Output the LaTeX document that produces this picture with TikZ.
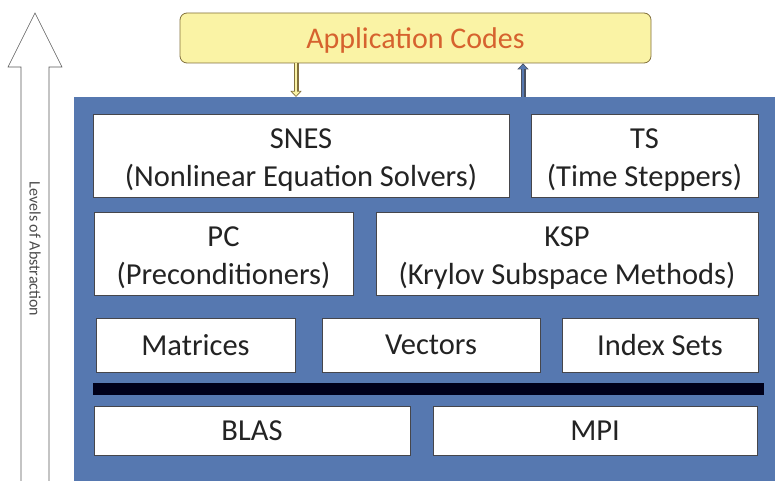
\documentclass[tikz,border=0pt]{standalone}
\usepackage{fontspec}
\setmainfont{Carlito}
\usetikzlibrary{arrows.meta}

\definecolor{panelblue}{RGB}{86,120,176}
\definecolor{appfill}{RGB}{250,243,165}
\definecolor{appedge}{RGB}{130,112,60}
\definecolor{apptext}{RGB}{214,98,46}
\definecolor{boxedge}{RGB}{70,70,75}
\definecolor{boxtext}{RGB}{35,35,35}

\tikzset{
  modbox/.style={draw=boxedge, line width=0.8pt, fill=white, text=boxtext, align=center,
    inner sep=0pt, font=\fontsize{30.5}{38}\selectfont},
  twoline/.style={modbox, text height=67pt},
  appbox/.style={draw=appedge, line width=0.8pt, fill=appfill, rounded corners=7pt,
    text=apptext, inner sep=0pt, text depth=0pt, font=\fontsize{30}{36}\selectfont},
  arrowout/.style={line width=5pt, -{Triangle[length=6pt,width=11pt]}},
  arrowin/.style={line width=2.8pt, shorten >=1.2pt, -{Triangle[length=4.2pt,width=7.6pt]}}
}

\begin{document}
\begin{tikzpicture}[x=1pt, y=-1pt]
  \useasboundingbox (0,0) rectangle (775,481);

  % levels of abstraction
  \draw[gray!70!black, line width=0.6pt, fill=white]
    (21,481) -- (21,67) -- (8,67) -- (35,13) -- (62,67) -- (49,67) -- (49,481);
  \node[rotate=-90, text=gray!60!black, font=\fontsize{16}{18}\selectfont] (levels) at (35,249) {Levels of Abstraction};

  % library panel
  \node[fill=panelblue, inner sep=0pt, minimum width=701pt, minimum height=384pt, anchor=north west] (panel) at (74,97) {};

  \node[appbox, minimum width=471pt, minimum height=50pt] (app) at (415.5,38) {Application Codes};

  \coordinate (dnx) at (296,0);
  \coordinate (upx) at (523,0);
  \draw[arrowout, draw=appedge] (app.south -| dnx) -- (panel.north -| dnx);
  \draw[arrowin, draw=appfill] (app.south -| dnx) -- (panel.north -| dnx);
  \draw[arrowout, draw=boxedge!80!panelblue] (panel.north -| upx) -- (app.south -| upx);
  \draw[arrowin, draw=panelblue] (panel.north -| upx) -- (app.south -| upx);

  \node[twoline, minimum width=416pt, minimum height=83pt] (snes) at (301,155.5) {SNES\\(Nonlinear Equation Solvers)};
  \node[twoline, minimum width=227pt, minimum height=83pt] (ts) at (644.5,155.5) {TS\\(Time Steppers)};
  \node[twoline, minimum width=259pt, minimum height=83pt] (pc) at (223.5,253.5) {PC\\(Preconditioners)};
  \node[twoline, minimum width=382pt, minimum height=83pt] (ksp) at (567,253.5) {KSP\\(Krylov Subspace Methods)};
  \node[modbox, minimum width=199pt, minimum height=54pt] (mat) at (195.5,345) {Matrices};
  \node[modbox, minimum width=218pt, minimum height=54pt] (vec) at (431,345) {Vectors};
  \node[modbox, minimum width=196pt, minimum height=54pt] (is) at (660,345) {Index Sets};

  \fill[black!90!blue] (93,383) rectangle (764,395);

  \node[modbox, minimum width=316pt, minimum height=49pt] (blas) at (252,430.5) {BLAS};
  \node[modbox, minimum width=324pt, minimum height=49pt] (mpi) at (595,430.5) {MPI};
\end{tikzpicture}
\end{document}
